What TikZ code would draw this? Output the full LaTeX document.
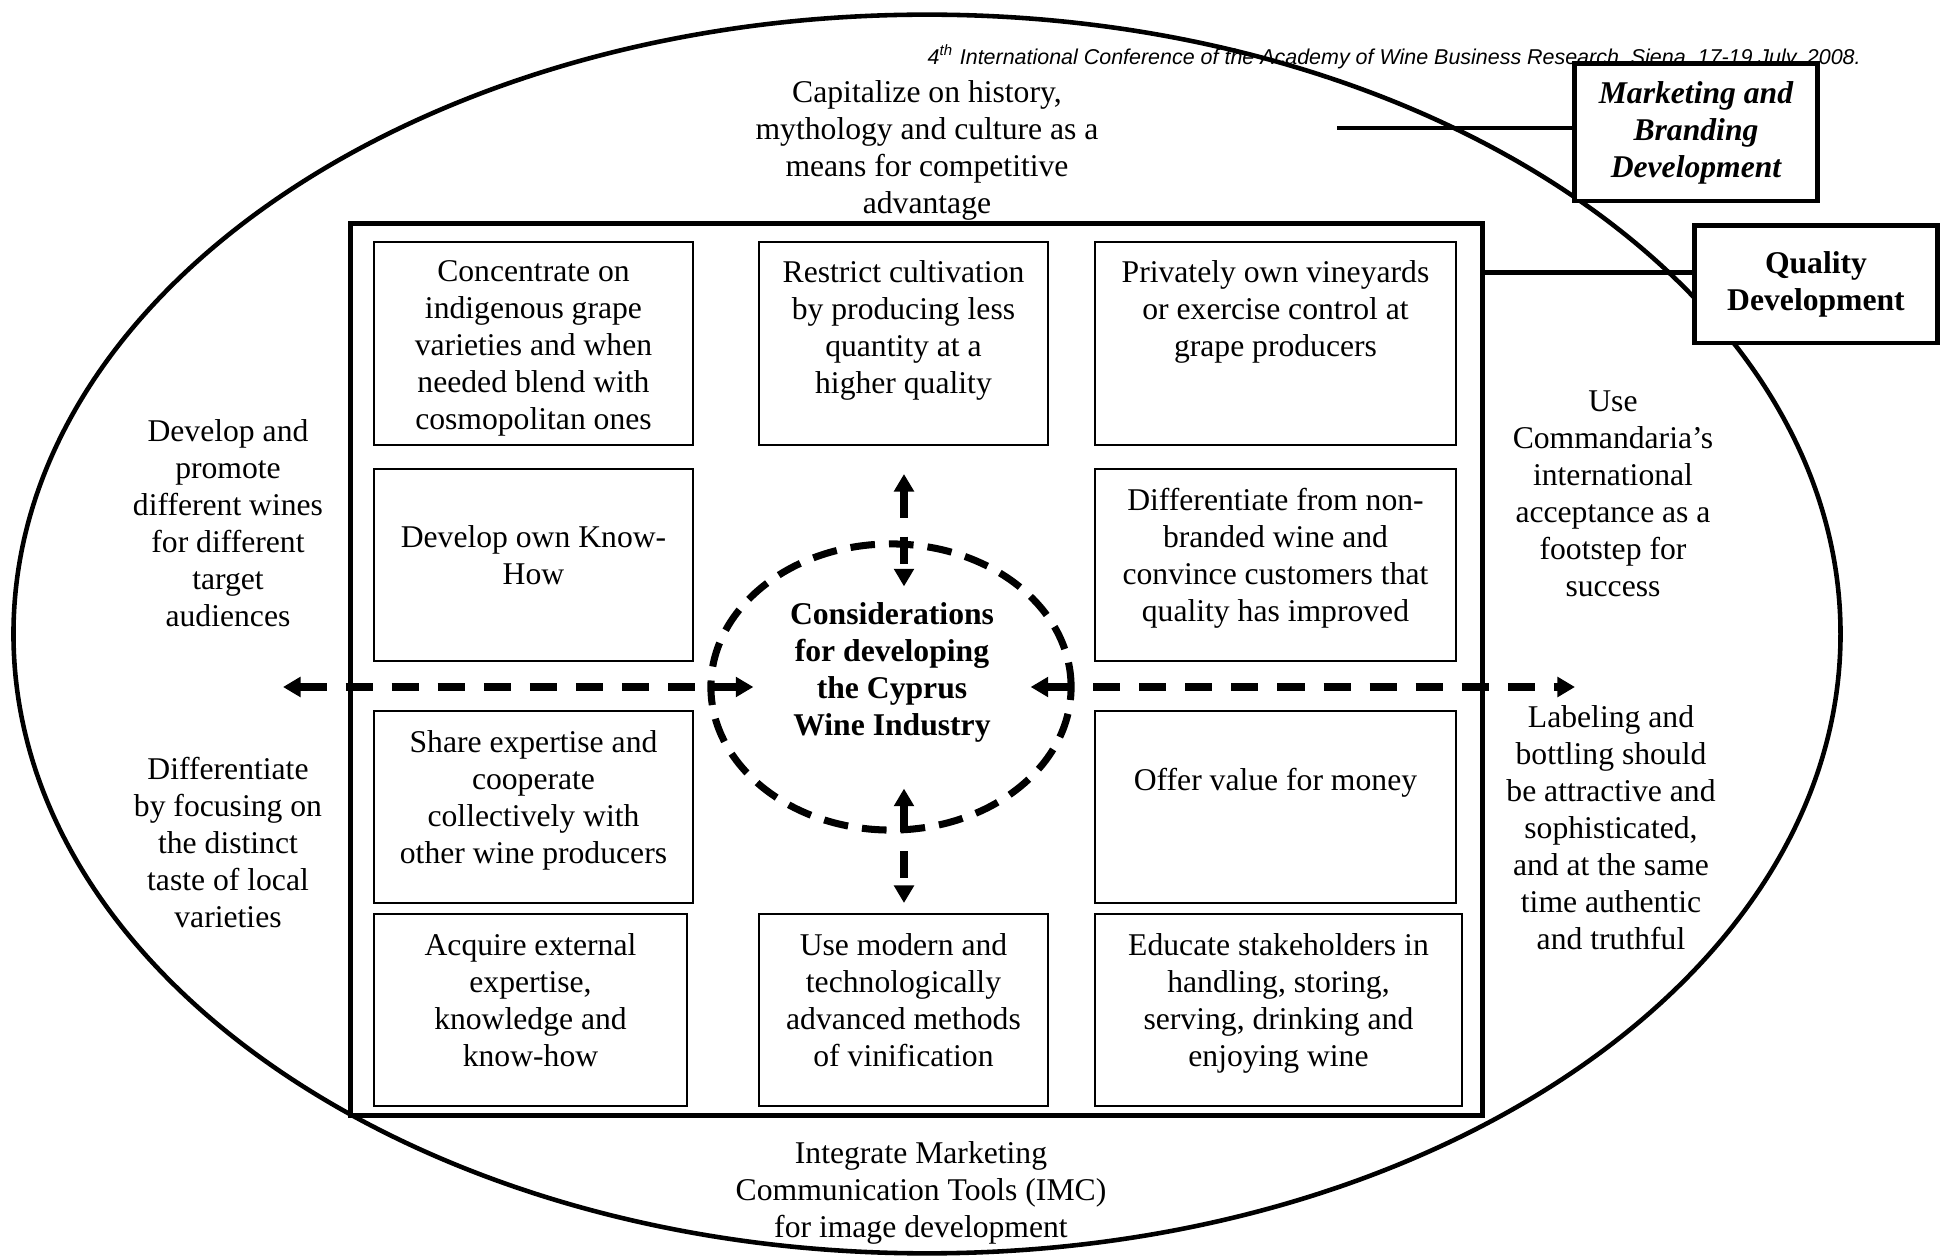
\documentclass[tikz,border=0pt]{standalone}
\usepackage{fontspec}
\setmainfont{Liberation Serif}
\newfontfamily\hdrfont{Liberation Sans}
\usetikzlibrary{arrows.meta,calc,shapes.geometric}
\tikzset{
  ring/.style ={draw, ellipse, line width=1.3pt, inner sep=0pt},
  frm/.style  ={draw, line width=1.3pt, inner sep=0pt},
  cell/.style ={draw, line width=0.6pt, inner sep=0pt},
  txt/.style  ={font=\fontsize{9}{10.5}\selectfont, align=center, inner sep=0pt, anchor=north},
  hub/.style  ={draw, ellipse, line width=2pt, dash pattern=on 7pt off 4pt, inner sep=0pt},
  tag/.style  ={draw, fill=white, line width=1.4pt, inner sep=0pt, align=center},
  conn/.style ={line width=1.4pt},
  dsh/.style  ={line width=2pt, dash pattern=on 7.7pt off 5.4pt,
                {Triangle[length=5pt,width=5.5pt]}-{Triangle[length=5pt,width=5.5pt]}},
}
\begin{document}
\begin{tikzpicture}[x=0.01cm, y=-0.01cm]
  \useasboundingbox (0,0) rectangle (1944,1258);
  \node[font=\hdrfont\itshape\fontsize{6.1}{7}\selectfont, anchor=west, inner sep=0pt] (conf) at (927,57)
    {4\textsuperscript{th} International Conference of the Academy of Wine Business Research, Siena, 17-19 July, 2008.};
  \node[ring, minimum width=18.26cm, minimum height=12.38cm] (field) at (927,634) {};
  \node[frm, minimum width=11.31cm, minimum height=8.91cm] (frame) at (916.5,669.5) {};

  \node[cell, minimum width=3.19cm, minimum height=2.03cm] (grape) at (533.5,343.5) {};
  \node[cell, minimum width=2.89cm, minimum height=2.03cm] (yield) at (903.5,343.5) {};
  \node[cell, minimum width=3.61cm, minimum height=2.03cm] (vine) at (1275.5,343.5) {};
  \node[cell, minimum width=3.19cm, minimum height=1.92cm] (know) at (533.5,565) {};
  \node[cell, minimum width=3.61cm, minimum height=1.92cm] (brand) at (1275.5,565) {};
  \node[cell, minimum width=3.19cm, minimum height=1.92cm] (share) at (533.5,807) {};
  \node[cell, minimum width=3.61cm, minimum height=1.92cm] (value) at (1275.5,807) {};
  \node[cell, minimum width=3.13cm, minimum height=1.92cm] (acquire) at (530.5,1010) {};
  \node[cell, minimum width=2.89cm, minimum height=1.92cm] (tech) at (903.5,1010) {};
  \node[cell, minimum width=3.67cm, minimum height=1.92cm] (educ) at (1278.5,1010) {};

  \node[txt] (grapet) at (533.5,260) {Concentrate on\\indigenous grape\\varieties and when\\needed blend with\\cosmopolitan ones};
  \node[txt] (yieldt) at (903.5,260) {Restrict cultivation\\by producing less\\quantity at a\\higher quality};
  \node[txt] (vinet) at (1275.5,260) {Privately own vineyards\\or exercise control at\\grape producers};
  \node[txt] (knowt) at (533.5,525) {Develop own Know-\\How};
  \node[txt] (brandt) at (1275.5,488) {Differentiate from non-\\branded wine and\\convince customers that\\quality has improved};
  \node[txt] (sharet) at (533.5,730) {Share expertise and\\cooperate\\collectively with\\other wine producers};
  \node[txt] (valuet) at (1275.5,768) {Offer value for money};
  \node[txt] (acquiret) at (530.5,933) {Acquire external\\expertise,\\knowledge and\\know-how};
  \node[txt] (techt) at (903.5,933) {Use modern and\\technologically\\advanced methods\\of vinification};
  \node[txt] (educt) at (1278.5,933) {Educate stakeholders in\\handling, storing,\\serving, drinking and\\enjoying wine};

  \node[txt] (capit) at (927,80) {Capitalize on history,\\mythology and culture as a\\means for competitive\\advantage};
  \node[txt] (promo) at (228,419) {Develop and\\promote\\different wines\\for different\\target\\audiences};
  \node[txt] (taste) at (228,757) {Differentiate\\by focusing on\\the distinct\\taste of local\\varieties};
  \node[txt] (comma) at (1613,390) {Use\\Commandaria’s\\international\\acceptance as a\\footstep for\\success};
  \node[txt] (label) at (1611,705) {Labeling and\\bottling should\\be attractive and\\sophisticated,\\and at the same\\time authentic\\and truthful};
  \node[txt] (imc) at (921,1141) {Integrate Marketing\\Communication Tools (IMC)\\for image development};

  \node[hub, minimum width=3.6cm, minimum height=2.86cm] (core) at (891,687) {};
  \node[txt, font=\fontsize{9}{10.5}\selectfont\bfseries] (coret) at (892,602)
    {Considerations\\for developing\\the Cyprus\\Wine Industry};

  \coordinate (wend) at (283,687);
  \coordinate (eend) at (1575,687);
  \coordinate (nend) at (904,474);
  \coordinate (send) at (904,903);
  \draw[dsh] (wend) -- ($(core.west)+(46,0)$);
  \draw[dsh] ($(core.east)+(-44,0)$) -- (eend);
  \draw[dsh] (nend) -- ($(nend |- core.north)+(0,46)$);
  \draw[dsh] ($(send |- core.south)+(0,-45)$) -- (send);

  \node[tag, minimum width=2.42cm, minimum height=1.37cm, font=\fontsize{9}{10.5}\selectfont\bfseries\itshape] (mbd) at (1696,132.5)
    {Marketing and\\Branding\\Development};
  \node[tag, minimum width=2.42cm, minimum height=1.17cm, font=\fontsize{9}{10.5}\selectfont\bfseries] (qual) at (1816,284.5)
    {Quality\\Development};
  \coordinate (capend) at (1337,128);
  \draw[conn] (capend) -- (capend -| mbd.west);
  \draw[conn] ($(frame.east |- qual.west)+(0,-12)$) -- ($(qual.west)+(0,-12)$);
\end{tikzpicture}
\end{document}
